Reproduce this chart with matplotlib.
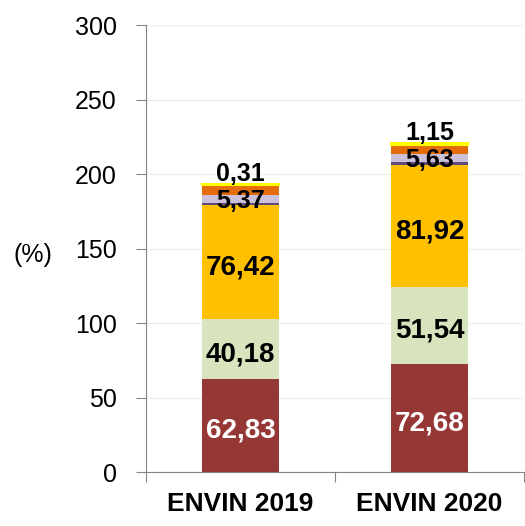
import matplotlib
matplotlib.use("Agg")
import matplotlib.pyplot as plt
import numpy as np

plt.rcParams['font.family'] = ['Liberation Sans', 'DejaVu Sans']

years = ["ENVIN 2019", "ENVIN 2020"]
# stack, bottom to top
seg_red = [62.83, 72.68]
seg_green = [40.18, 51.54]
seg_gold = [76.42, 81.92]
seg_purple = [1.5, 1.8]      # thin unlabelled band
seg_lavender = [5.37, 5.63]
seg_orange = [6.8, 6.2]      # unlabelled band
seg_yellow = [0.31, 1.15]

layers = [
    (seg_red, "#953735"),
    (seg_green, "#D7E4BD"),
    (seg_gold, "#FFC000"),
    (seg_purple, "#604A7B"),
    (seg_lavender, "#CCC1DA"),
    (seg_orange, "#E46C0A"),
    (seg_yellow, "#FFFF00"),
]

fig = plt.figure(figsize=(5.25, 5.26), dpi=100)
ax = fig.add_axes([0.278, 0.102, 0.72, 0.85])

x = np.arange(len(years))
w = 0.41
bottom = np.zeros(len(years))
for vals, col in layers:
    lw = 1.5 if col == "#FFFF00" else 0
    ax.bar(x, vals, w, bottom=bottom, color=col, edgecolor=col, linewidth=lw, zorder=3)
    bottom += np.array(vals)

tot_gold = np.array(seg_red) + np.array(seg_green) + np.array(seg_gold)

def fmt(v):
    return f"{v:.2f}".replace(".", ",")

big = dict(ha="center", va="center_baseline", fontsize=20, fontweight="bold", zorder=4)
small = dict(ha="center", va="center_baseline", fontsize=18, fontweight="bold", zorder=4)
for i in range(len(years)):
    ax.text(x[i], seg_red[i] / 2 - 1.5, fmt(seg_red[i]), color="white", **big)
    ax.text(x[i], seg_red[i] + seg_green[i] / 2 - 1.5, fmt(seg_green[i]), color="black", **big)
    ax.text(x[i], seg_red[i] + seg_green[i] + seg_gold[i] / 2 - 1.5, fmt(seg_gold[i]),
            color="black", **big)
    ax.text(x[i], tot_gold[i] + seg_purple[i] + 3.0, fmt(seg_lavender[i]),
            color="black", **small)
    ax.text(x[i], bottom[i] + 8.5, fmt(seg_yellow[i]), color="black", **small)

ax.set_ylim(0, 300)
ax.set_xlim(-0.5, 1.5)
ax.set_yticks(range(0, 301, 50))
ax.tick_params(axis="y", labelsize=18, length=7, color="#868686", pad=14)
ax.yaxis.grid(True, color="#F0F0F0", linewidth=1, zorder=0)
ax.set_axisbelow(True)

ax.set_xticks([-0.5, 0.5, 1.5])
ax.set_xticklabels([])
ax.set_xticks(x, minor=True)
ax.set_xticklabels(years, minor=True, fontsize=19, fontweight="bold")
ax.tick_params(axis="x", which="major", length=7, color="#868686")
ax.tick_params(axis="x", which="minor", length=0, pad=14)

for s in ["top", "right"]:
    ax.spines[s].set_visible(False)
for s in ["left", "bottom"]:
    ax.spines[s].set_color("#868686")

ax.set_ylabel("(%)", rotation=0, fontsize=18, labelpad=0, va="center")
ax.yaxis.set_label_coords(-0.30, 0.486)

fig.savefig("out.png", dpi=100)
